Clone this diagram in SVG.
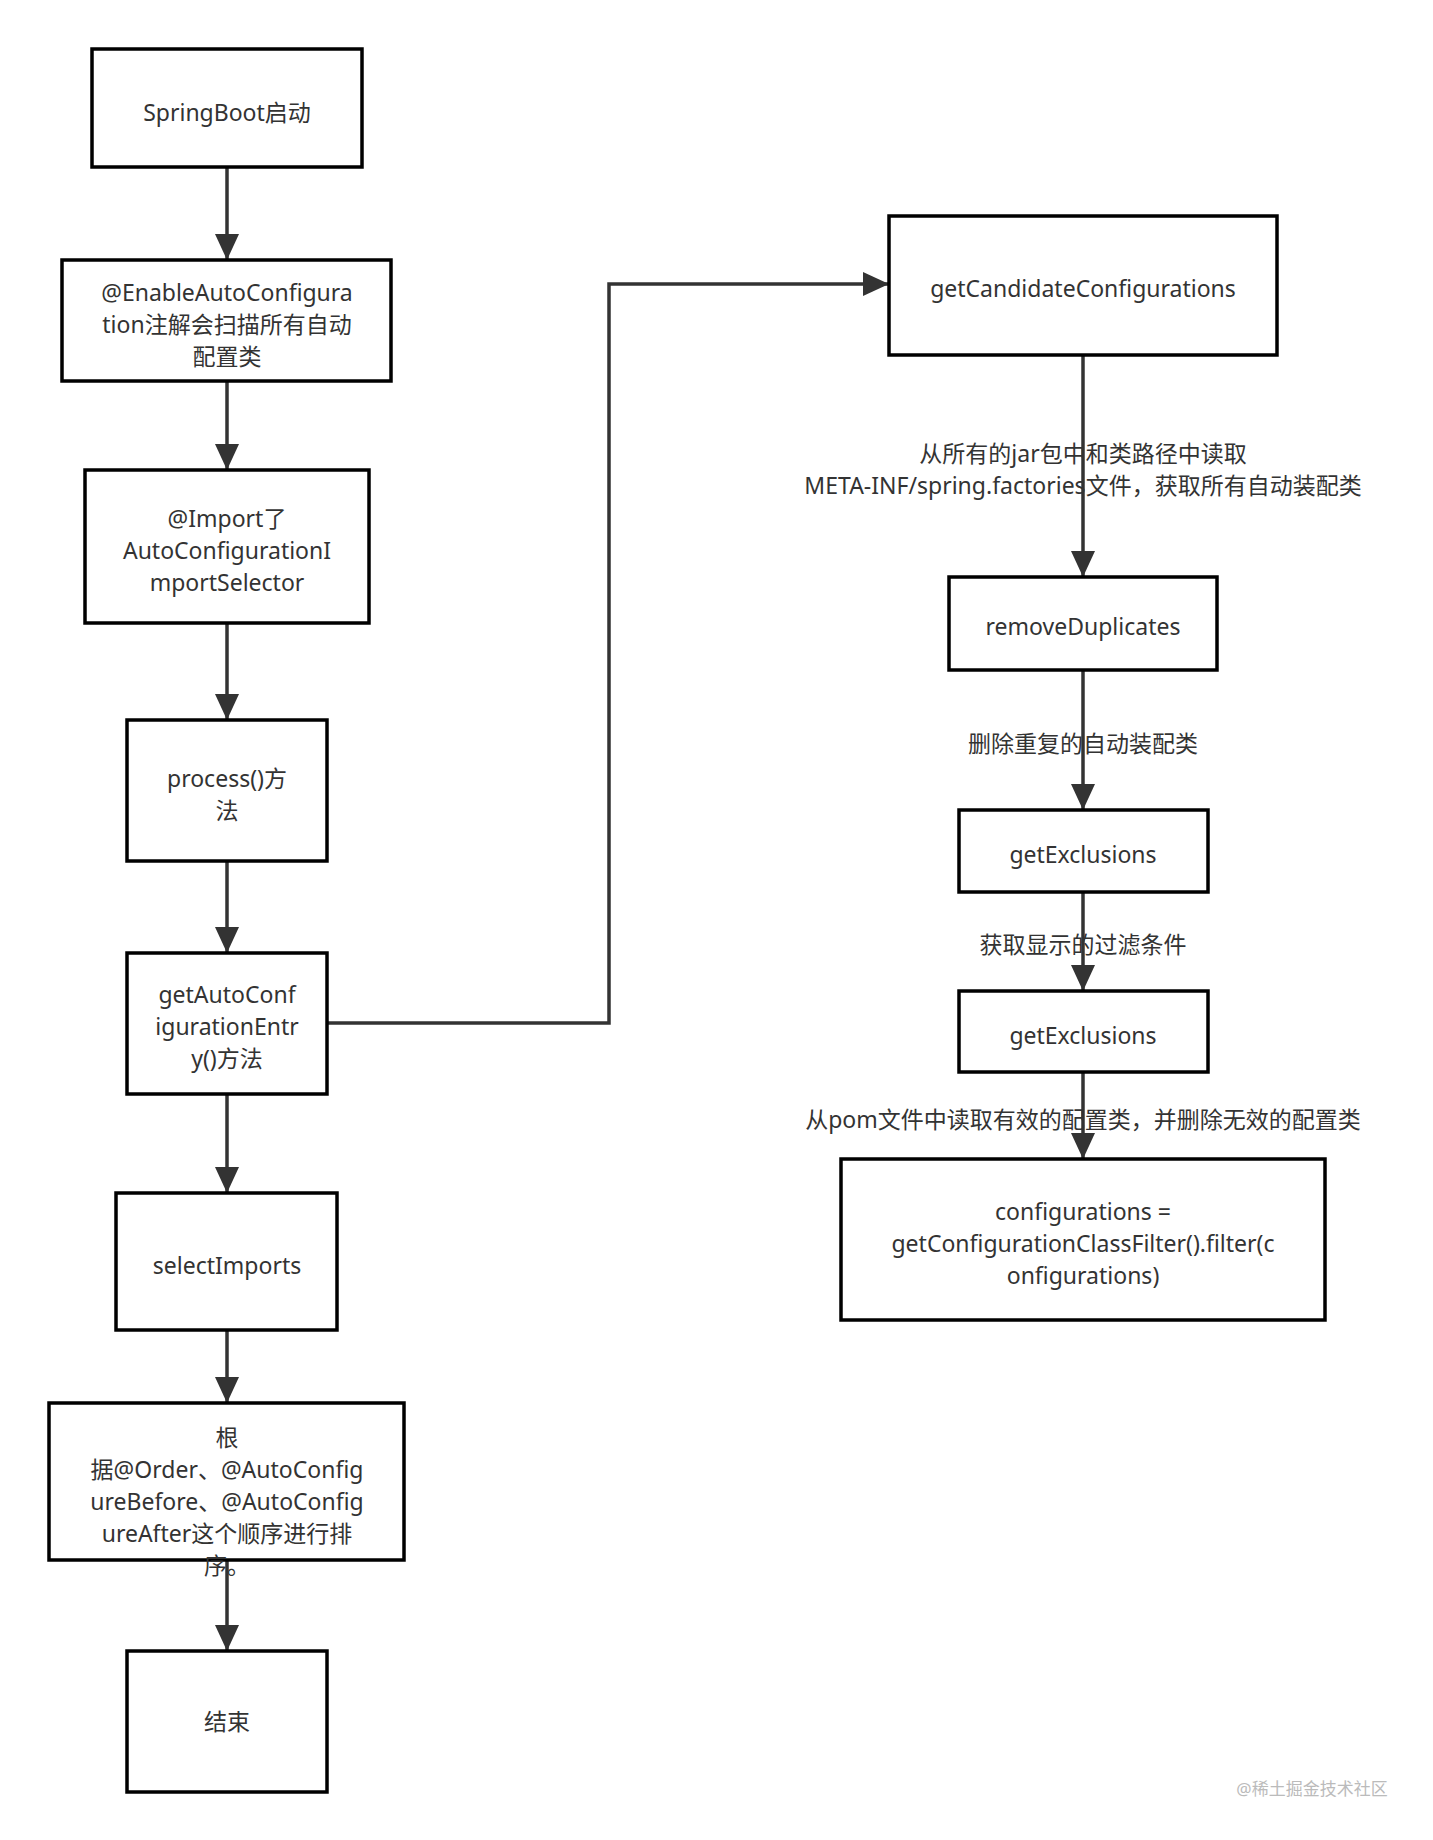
<svg xmlns="http://www.w3.org/2000/svg" width="1433" height="1840" viewBox="0 0 1433 1840">
<style>
rect.n{fill:#fff;stroke:#000;stroke-width:3.5}
text{font-family:"Noto Sans","Noto Sans CJK SC",sans-serif;font-size:23px;fill:#333;text-anchor:middle}
.c{fill:none;stroke:#333;stroke-width:3.5}
.lb{fill:#fff}
</style>
<defs><marker id="a" markerWidth="10" markerHeight="10" refX="9" refY="5" orient="auto" markerUnits="userSpaceOnUse" viewBox="0 0 10 10"><path d="M0,0 L10,5 L0,10 z" fill="#333"/></marker>
<marker id="b" markerWidth="26" markerHeight="30" refX="26" refY="15" orient="auto" markerUnits="userSpaceOnUse"><path d="M0,3 L26,15 L0,27 z" fill="#333"/></marker></defs>
<rect width="1433" height="1840" fill="#fff"/>
<g id="connectors">
<path class="c" marker-end="url(#b)" d="M227,167V260"/>
<path class="c" marker-end="url(#b)" d="M227,381V470"/>
<path class="c" marker-end="url(#b)" d="M227,623V720"/>
<path class="c" marker-end="url(#b)" d="M227,861V953"/>
<path class="c" marker-end="url(#b)" d="M227,1094V1193"/>
<path class="c" marker-end="url(#b)" d="M227,1330V1403"/>
<path class="c" marker-end="url(#b)" d="M227,1560V1651"/>
<path class="c" marker-end="url(#b)" d="M327,1023H609V284H889"/>
<path class="c" marker-end="url(#b)" d="M1083,355V577"/>
<path class="c" marker-end="url(#b)" d="M1083,670V810"/>
<path class="c" marker-end="url(#b)" d="M1083,892V991"/>
<path class="c" marker-end="url(#b)" d="M1083,1072V1159"/>
<text x="1083" y="462">从所有的jar包中和类路径中读取</text>
<text x="1083" y="494">META-INF/spring.factories文件，获取所有自动装配类</text>
<text x="1083" y="752">删除重复的自动装配类</text>
<text x="1083" y="953">获取显示的过滤条件</text>
<text x="1083" y="1128">从pom文件中读取有效的配置类，并删除无效的配置类</text>
</g>
<g id="n1"><rect class="n" x="92" y="49" width="270" height="118"/><text x="227" y="121">SpringBoot启动</text></g>
<g id="n2"><rect class="n" x="62" y="260" width="329" height="121"/><text x="227" y="301">@EnableAutoConfigura</text><text x="227" y="333">tion注解会扫描所有自动</text><text x="227" y="365">配置类</text></g>
<g id="n3"><rect class="n" x="85" y="470" width="284" height="153"/><text x="227" y="527">@Import了</text><text x="227" y="559">AutoConfigurationI</text><text x="227" y="591">mportSelector</text></g>
<g id="n4"><rect class="n" x="127" y="720" width="200" height="141"/><text x="227" y="787">process()方</text><text x="227" y="819">法</text></g>
<g id="n5"><rect class="n" x="127" y="953" width="200" height="141"/><text x="227" y="1003">getAutoConf</text><text x="227" y="1035">igurationEntr</text><text x="227" y="1067">y()方法</text></g>
<g id="n6"><rect class="n" x="116" y="1193" width="221" height="137"/><text x="227" y="1274">selectImports</text></g>
<g id="n7"><rect class="n" x="49" y="1403" width="355" height="157"/><text x="227" y="1446">根</text><text x="227" y="1478">据@Order、@AutoConfig</text><text x="227" y="1510">ureBefore、@AutoConfig</text><text x="227" y="1542">ureAfter这个顺序进行排</text><text x="227" y="1574">序。</text></g>
<g id="n8"><rect class="n" x="127" y="1651" width="200" height="141"/><text x="227" y="1730">结束</text></g>
<g id="n9"><rect class="n" x="889" y="216" width="388" height="139"/><text x="1083" y="297">getCandidateConfigurations</text></g>
<g id="n10"><rect class="n" x="949" y="577" width="268" height="93"/><text x="1083" y="635">removeDuplicates</text></g>
<g id="n11"><rect class="n" x="959" y="810" width="249" height="82"/><text x="1083" y="863">getExclusions</text></g>
<g id="n12"><rect class="n" x="959" y="991" width="249" height="81"/><text x="1083" y="1044">getExclusions</text></g>
<g id="n13"><rect class="n" x="841" y="1159" width="484" height="161"/><text x="1083" y="1220">configurations =</text><text x="1083" y="1252">getConfigurationClassFilter().filter(c</text><text x="1083" y="1284">onfigurations)</text></g>
<text x="1312" y="1795" style="font-size:17px;fill:#bbb">@稀土掘金技术社区</text>
</svg>
